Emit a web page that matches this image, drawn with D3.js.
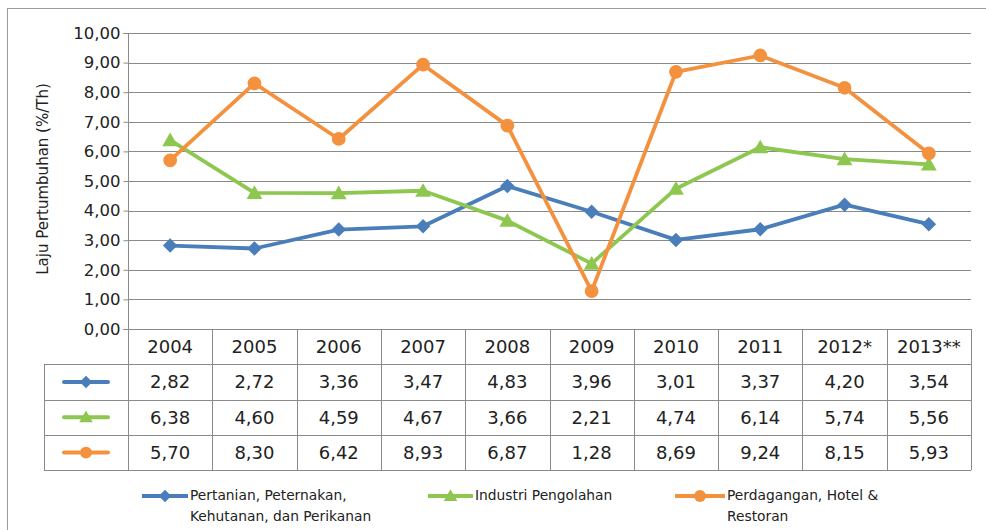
<!DOCTYPE html>
<html>
<head>
<meta charset="utf-8">
<script src="https://cdn.jsdelivr.net/npm/d3@7/dist/d3.min.js"></script>
<style>
  html, body { margin: 0; padding: 0; background: #fff; }
  svg { display: block; }
  text { font-family: "DejaVu Sans", Verdana, sans-serif; fill: #222; }
</style>
</head>
<body>
<svg id="chart" width="986" height="530"></svg>
<script>
const years = ["2004", "2005", "2006", "2007", "2008", "2009", "2010", "2011", "2012*", "2013**"];
const pertanian = [2.82, 2.72, 3.36, 3.47, 4.83, 3.96, 3.01, 3.37, 4.20, 3.54];
const industri = [6.38, 4.60, 4.59, 4.67, 3.66, 2.21, 4.74, 6.14, 5.74, 5.56];
const perdagangan = [5.70, 8.30, 6.42, 8.93, 6.87, 1.28, 8.69, 9.24, 8.15, 5.93];
const yTicks = [0, 1, 2, 3, 4, 5, 6, 7, 8, 9, 10];
const seriesNames = ["Pertanian, Peternakan,|Kehutanan, dan Perikanan", "Industri Pengolahan", "Perdagangan, Hotel &|Restoran"];
const yTitle = "Laju Pertumbuhan (%/Th)";

(function () {
const colors = ["#4a7ebb", "#8dc74f", "#f4913f"];
const markers = [d3.symbolSquare, d3.symbolTriangle, d3.symbolCircle];
const markerRot = [45, 0, 0];
const markerSizes = [78, 80, 110];
const seriesData = [pertanian, industri, perdagangan];

const svg = d3.select("#chart");
const fmt = v => d3.format(".2f")(v).replace(".", ",");

const pLeft = 128, pRight = 971, pTop = 33, pBottom = 329;
const x = d3.scaleBand().domain(years).range([pLeft, pRight]).padding(0);
const y = d3.scaleLinear().domain([0, 10]).range([pBottom, pTop]);
const rowH = 35.3;
const tableLeft = 44;
const gridColor = "#8a8a8a";

// Outer border
svg.append("rect").attr("x", 7.5).attr("y", 8.5).attr("width", 1000).attr("height", 600)
  .attr("fill", "none").attr("stroke", "#9a9a9a").attr("stroke-width", 1);

// gridlines
svg.append("g").selectAll("line").data(yTicks).join("line")
  .attr("x1", pLeft).attr("x2", pRight)
  .attr("y1", d => Math.round(y(d)) + 0.5).attr("y2", d => Math.round(y(d)) + 0.5)
  .attr("stroke", gridColor).attr("stroke-width", 1);

// y axis
const yAxis = d3.axisLeft(y).tickValues(yTicks).tickFormat(fmt).tickSize(5).tickPadding(3);
const gy = svg.append("g").attr("transform", `translate(${pLeft + 0.5},0)`).call(yAxis);
gy.select(".domain").attr("stroke", gridColor).attr("d", `M-5,${Math.round(pTop)+0.5}H0V${pBottom + 0.5}H-5`);
gy.selectAll(".tick line").attr("stroke", gridColor);
gy.selectAll(".tick text").style("font-family", "DejaVu Sans").style("font-size", "16.5px").attr("fill", "#222");

// y title
svg.append("text").attr("transform", `translate(48,179) rotate(-90)`)
  .attr("text-anchor", "middle").style("font-size", "15px").text(yTitle);

// Data table
const tbl = svg.append("g");
const tableBottom = pBottom + rowH * 4;
const bounds = years.map(d => x(d)).concat([pRight]);
tbl.selectAll("line.v").data(bounds).join("line").attr("class", "v")
  .attr("x1", d => Math.round(d) + 0.5).attr("x2", d => Math.round(d) + 0.5)
  .attr("y1", pBottom).attr("y2", tableBottom)
  .attr("stroke", gridColor);
tbl.append("line").attr("x1", tableLeft + 0.5).attr("x2", tableLeft + 0.5)
  .attr("y1", pBottom + rowH).attr("y2", tableBottom).attr("stroke", gridColor);
tbl.selectAll("line.h").data([1, 2, 3, 4]).join("line").attr("class", "h")
  .attr("x1", tableLeft).attr("x2", pRight)
  .attr("y1", d => Math.round(pBottom + rowH * d) + 0.5).attr("y2", d => Math.round(pBottom + rowH * d) + 0.5)
  .attr("stroke", gridColor);
tbl.selectAll("text.hdr").data(years).join("text").attr("class", "hdr")
  .attr("x", d => x(d) + x.bandwidth() / 2).attr("y", pBottom + rowH / 2 + 6.5)
  .attr("text-anchor", "middle").style("font-size", "18px").text(d => d);
seriesData.forEach((vals, i) => {
  const cy = pBottom + rowH * (i + 1) + rowH / 2;
  tbl.append("g").selectAll("text").data(vals).join("text")
    .attr("x", (d, j) => x(years[j]) + x.bandwidth() / 2).attr("y", cy + 6.5)
    .attr("text-anchor", "middle").style("font-size", "18px").text(d => fmt(d));
  const lx = (tableLeft + pLeft) / 2;
  tbl.append("line").attr("x1", lx - 22).attr("x2", lx + 22).attr("y1", cy).attr("y2", cy)
    .attr("stroke", colors[i]).attr("stroke-width", 4).attr("stroke-linecap", "round");
  tbl.append("path").attr("d", d3.symbol().type(markers[i]).size(markerSizes[i]))
    .attr("transform", `translate(${lx},${cy + (i === 1 ? 1 : 0)}) rotate(${markerRot[i]})`).attr("fill", colors[i]);
});

// series lines
const line = d3.line().x((d, j) => x(years[j]) + x.bandwidth() / 2).y(d => y(d));
seriesData.forEach((vals, i) => {
  const g = svg.append("g");
  g.append("path").datum(vals).attr("d", line).attr("fill", "none")
    .attr("stroke", colors[i]).attr("stroke-width", 3.8).attr("stroke-linejoin", "round");
  g.selectAll("path.m").data(vals).join("path").attr("class", "m")
    .attr("d", d3.symbol().type(markers[i]).size(markerSizes[i] * 1.35))
    .attr("transform", (d, j) => `translate(${x(years[j]) + x.bandwidth() / 2},${y(d) + (i === 1 ? 1.5 : 0)}) rotate(${markerRot[i]})`)
    .attr("fill", colors[i]);
});

// bottom legend
const legendItems = [
  { x1: 142, x2: 188 },
  { x1: 428, x2: 473 },
  { x1: 675, x2: 725 }
];
legendItems.forEach((it, i) => {
  const ly = 496;
  const g = svg.append("g");
  g.append("line").attr("x1", it.x1).attr("x2", it.x2).attr("y1", ly).attr("y2", ly)
    .attr("stroke", colors[i]).attr("stroke-width", 4);
  g.append("path").attr("d", d3.symbol().type(markers[i]).size(markerSizes[i]))
    .attr("transform", `translate(${(it.x1 + it.x2) / 2},${ly + (i === 1 ? 1 : 0)}) rotate(${markerRot[i]})`).attr("fill", colors[i]);
  const t = g.append("text").attr("x", it.x2 + 2).attr("y", 500).style("font-size", "13.8px");
  seriesNames[i].split("|").forEach((s, k) => {
    t.append("tspan").attr("x", it.x2 + 2).attr("dy", k === 0 ? 0 : 21).text(s);
  });
});
})();
</script>
</body>
</html>
